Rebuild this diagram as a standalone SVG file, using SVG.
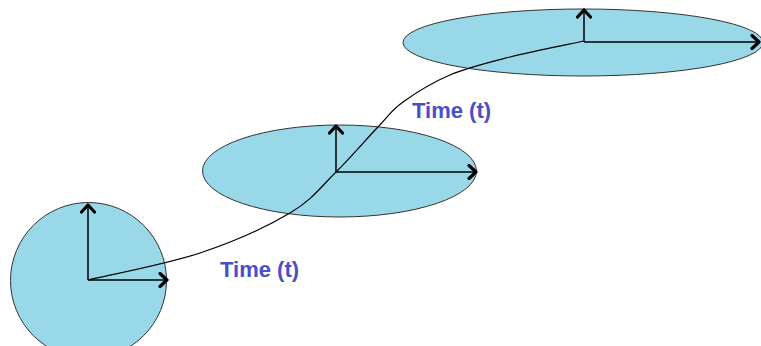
<svg xmlns="http://www.w3.org/2000/svg" width="761" height="346" viewBox="0 0 761 346">
<style>
.disk{fill:#99D8E8;stroke:#333;stroke-width:1}
.axis{fill:none;stroke:#000;stroke-width:1.5;marker-end:url(#chev)}
.path{fill:none;stroke:#000;stroke-width:1.2}
.lbl{font-family:"Liberation Sans",Arial,sans-serif;font-weight:bold;font-size:22px;fill:#4B4FC4}
</style>
<defs>
<marker id="chev" markerUnits="userSpaceOnUse" markerWidth="16" markerHeight="16" viewBox="-10 -8 12 16" refX="0" refY="0" orient="auto">
<path d="M-7,-6.5 L0,0 L-7,6.5" fill="none" stroke="#000" stroke-width="3.2" stroke-linecap="round" stroke-linejoin="round"/>
</marker>
</defs>
<rect width="761" height="346" fill="#fff"/>
<g id="frame1">
<circle class="disk" cx="88.5" cy="280.5" r="78"/>
<line class="axis" x1="88" y1="280" x2="88" y2="205"/>
<line class="axis" x1="88" y1="280" x2="167" y2="280"/>
</g>
<g id="frame2">
<ellipse class="disk" cx="339.5" cy="171" rx="137" ry="46"/>
<line class="axis" x1="336" y1="172" x2="336" y2="126"/>
<line class="axis" x1="336" y1="172" x2="476" y2="172"/>
</g>
<g id="frame3">
<ellipse class="disk" cx="583" cy="42.5" rx="180" ry="33.5"/>
<line class="axis" x1="584" y1="42" x2="584" y2="10"/>
<line class="axis" x1="584" y1="42" x2="759" y2="42"/>
</g>
<g id="connectors">
<path class="path" d="M88,280 C106.7,275.5 166.3,264.2 200,253 C233.7,241.8 267.3,226.5 290,213 C312.7,199.5 321.5,186.2 336,172 C350.5,157.8 365.8,139.7 377,128 C388.2,116.3 390.8,110.8 403,102 C415.2,93.2 432.2,82.5 450,75 C467.8,67.5 487.7,62.7 510,57 C532.3,51.3 571.7,43.7 584,41"/>
</g>
<g id="labels">
<text class="lbl" x="220" y="277">Time (t)</text>
<text class="lbl" x="412" y="118">Time (t)</text>
</g>
</svg>
